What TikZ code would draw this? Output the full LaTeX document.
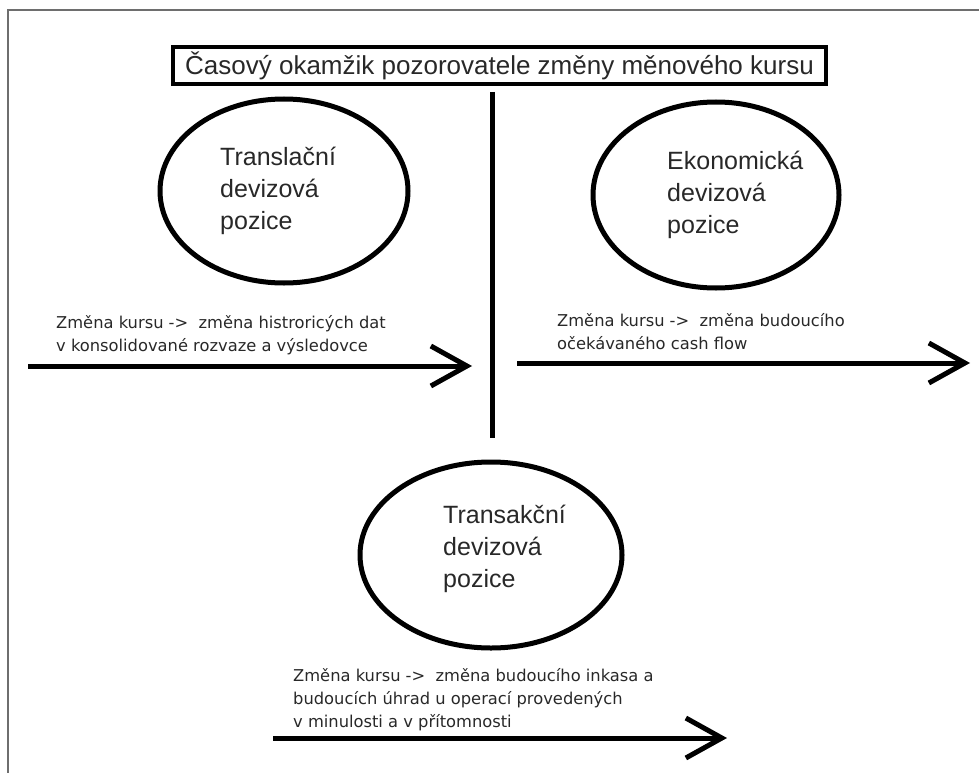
\documentclass[tikz,border=0pt]{standalone}
\usepackage{fontspec}
\setmainfont{Liberation Sans}
\newfontfamily\notefont{DejaVu Sans}
\usetikzlibrary{shapes.geometric,arrows.meta}

\definecolor{lineColor}{RGB}{0,0,0}
\definecolor{textColor}{RGB}{40,40,40}
\definecolor{frameColor}{RGB}{110,110,110}

\begin{document}
\begin{tikzpicture}[
  x=1pt, y=-1pt,
  pozice/.style={draw=lineColor, ellipse, line width=5pt, inner sep=0pt},
  nazev/.style={font=\fontsize{25pt}{32pt}\selectfont, text=textColor, align=left, anchor=west, inner sep=0pt},
  poznamka/.style={font=\notefont\fontsize{16.3pt}{23pt}\selectfont, text=textColor, align=left, anchor=west, inner sep=0pt},
  tok/.style={draw=lineColor, line width=5pt, -{Straight Barb[length=36pt, width=40pt]}},
  titulek/.style={draw=lineColor, line width=4pt, minimum width=653pt, minimum height=37pt, inner sep=0pt, font=\fontsize{26pt}{30pt}\selectfont, text=textColor}
]
\useasboundingbox (0,0) rectangle (979,773);

% Frame of the page
\draw[frameColor, line width=2pt] (979,10) -- (8,10) -- (8,773);

% Title
\node[titulek] (casovy) at (499.5,65.5) {Časový okamžik pozorovatele změny měnového kursu};

% Dividing line
\coordinate (osaHorni) at (492,92);
\coordinate (osaDolni) at (492,438);
\draw[lineColor, line width=5pt] (osaHorni) -- (osaDolni);

% Positions
\node[pozice, minimum width=248pt, minimum height=184pt] (translacni) at (284,191) {};
\node[nazev] (translacniText) at (220,191) {Translační\\devizová\\pozice};

\node[pozice, minimum width=246pt, minimum height=186pt] (ekonomicka) at (716,195) {};
\node[nazev] (ekonomickaText) at (667,195) {Ekonomická\\devizová\\pozice};

\node[pozice, minimum width=262pt, minimum height=186pt] (transakcni) at (491,555) {};
\node[nazev] (transakcniText) at (443,549) {Transakční\\devizová\\pozice};

% Left arrow
\coordinate (tokA1) at (28,366);
\coordinate (tokA2) at (472,366);
\draw[tok] (tokA1) -- (tokA2);
\node[poznamka] (poznamkaA) at (56,335) {Změna kursu ->\ \ změna histroricých dat\\v konsolidované rozvaze a výsledovce};

% Right arrow
\coordinate (tokB1) at (517,363);
\coordinate (tokB2) at (970,363);
\draw[tok] (tokB1) -- (tokB2);
\node[poznamka] (poznamkaB) at (557,332) {Změna kursu ->\ \ změna budoucího\\očekávaného cash flow};

% Bottom arrow
\coordinate (tokC1) at (273,738);
\coordinate (tokC2) at (727,738);
\draw[tok] (tokC1) -- (tokC2);
\node[poznamka] (poznamkaC) at (293,700) {Změna kursu ->\ \ změna budoucího inkasa a\\budoucích úhrad u operací provedených\\v minulosti a v přítomnosti};

\end{tikzpicture}
\end{document}
